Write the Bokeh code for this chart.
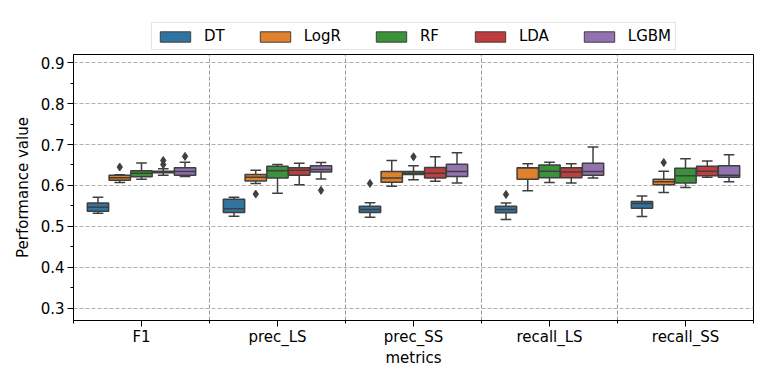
from bokeh.plotting import figure
from bokeh.layouts import column
from bokeh.models import Range1d, FixedTicker, Legend, LegendItem, ColumnDataSource
from bokeh.embed import file_html
from bokeh.resources import INLINE

metrics = ["F1", "prec_LS", "prec_SS", "recall_LS", "recall_SS"]
models = ["DT", "LogR", "RF", "LDA", "LGBM"]
colors = ["#3274a1", "#e1812c", "#3a923a", "#c03d3e", "#9372b2"]

# rows follow `models`, columns follow `metrics`
whisker_lo = [
    [0.532, 0.525, 0.522, 0.517, 0.524],
    [0.607, 0.605, 0.598, 0.587, 0.583],
    [0.615, 0.581, 0.614, 0.607, 0.595],
    [0.625, 0.602, 0.610, 0.606, 0.620],
    [0.622, 0.616, 0.606, 0.618, 0.609],
]
q1 = [
    [0.537, 0.534, 0.534, 0.533, 0.544],
    [0.613, 0.611, 0.608, 0.615, 0.602],
    [0.621, 0.618, 0.627, 0.619, 0.606],
    [0.631, 0.625, 0.618, 0.619, 0.624],
    [0.625, 0.633, 0.622, 0.625, 0.620],
]
median = [
    [0.547, 0.543, 0.541, 0.541, 0.556],
    [0.619, 0.620, 0.618, 0.643, 0.609],
    [0.630, 0.636, 0.630, 0.635, 0.624],
    [0.633, 0.637, 0.630, 0.633, 0.635],
    [0.634, 0.639, 0.634, 0.634, 0.625],
]
q3 = [
    [0.557, 0.566, 0.549, 0.549, 0.561],
    [0.625, 0.627, 0.634, 0.643, 0.615],
    [0.636, 0.647, 0.634, 0.650, 0.642],
    [0.635, 0.643, 0.644, 0.643, 0.647],
    [0.643, 0.648, 0.652, 0.654, 0.648],
]
whisker_hi = [
    [0.571, 0.571, 0.558, 0.557, 0.574],
    [0.626, 0.637, 0.661, 0.653, 0.635],
    [0.655, 0.651, 0.648, 0.657, 0.665],
    [0.641, 0.654, 0.670, 0.653, 0.660],
    [0.657, 0.656, 0.680, 0.694, 0.675],
]
outlier_metric = ["F1", "F1", "F1", "F1", "prec_LS", "prec_LS", "prec_SS", "prec_SS", "recall_LS", "recall_SS"]
outlier_model = ["LogR", "LDA", "LDA", "LGBM", "LogR", "LGBM", "DT", "RF", "DT", "LogR"]
outlier_value = [0.645, 0.661, 0.651, 0.671, 0.579, 0.588, 0.605, 0.670, 0.578, 0.656]

y_ticks = [0.3, 0.4, 0.5, 0.6, 0.7, 0.8, 0.9]
y_minor = [0.35, 0.45, 0.55, 0.65, 0.75, 0.85]

FONT = "DejaVu Sans"
EDGE = "#3f3f3f"
hue_w = 0.8 / len(models)
box_w = hue_w * 0.98
W = 764
LEG_H = 52

# ---------------- legend strip (separate figure above the chart)
lf = figure(width=W, height=LEG_H, output_backend="svg", toolbar_location=None,
            x_range=Range1d(0, 1), y_range=Range1d(0, 1),
            x_axis_location=None, y_axis_location=None,
            min_border_left=0, min_border_right=0, min_border_top=0, min_border_bottom=0)
lf.grid.visible = False
lf.outline_line_color = None
lf.background_fill_color = "white"
lf.border_fill_color = "white"
legend_items = []
for m, name in enumerate(models):
    # legend key only: the quad itself lies outside the strip's visible range
    r = lf.quad(left=[2], right=[3], bottom=[2], top=[3], fill_color=colors[m],
                line_color=EDGE, line_width=1)
    legend_items.append(LegendItem(label=name, renderers=[r]))
legend = Legend(items=legend_items, orientation="horizontal", location=(78, 2),
                glyph_width=38, glyph_height=13, label_standoff=10, spacing=31,
                padding=4, margin=0, label_height=16,
                label_text_font=FONT, label_text_font_size="15px", label_text_color="black",
                border_line_color="#cccccc", border_line_width=1,
                background_fill_color="white", background_fill_alpha=0.8)
lf.add_layout(legend, "center")

# ---------------- main chart
p = figure(width=W, height=378 - LEG_H, output_backend="svg", toolbar_location=None,
           x_range=Range1d(0, len(metrics)), y_range=Range1d(0.27, 0.92),
           min_border_left=73, min_border_right=11, min_border_top=54 - LEG_H, min_border_bottom=58)
p.background_fill_color = "white"
p.border_fill_color = "white"
p.outline_line_color = "black"
p.outline_line_width = 1

centers = [i + 0.5 for i in range(len(metrics))]
for m, name in enumerate(models):
    xs = [c + (m - (len(models) - 1) / 2) * hue_w for c in centers]
    src = ColumnDataSource(dict(
        x=xs,
        left=[x - box_w / 2 for x in xs], right=[x + box_w / 2 for x in xs],
        capl=[x - box_w / 4 for x in xs], capr=[x + box_w / 4 for x in xs],
        lo=whisker_lo[m], q1=q1[m], med=median[m], q3=q3[m], hi=whisker_hi[m],
    ))
    p.segment(x0="x", x1="x", y0="lo", y1="q1", source=src, line_color=EDGE, line_width=1.5)
    p.segment(x0="x", x1="x", y0="q3", y1="hi", source=src, line_color=EDGE, line_width=1.5)
    p.segment(x0="capl", x1="capr", y0="lo", y1="lo", source=src, line_color=EDGE, line_width=1.5)
    p.segment(x0="capl", x1="capr", y0="hi", y1="hi", source=src, line_color=EDGE, line_width=1.5)
    p.quad(left="left", right="right", bottom="q1", top="q3", source=src,
           fill_color=colors[m], line_color=EDGE, line_width=1.5)
    p.segment(x0="left", x1="right", y0="med", y1="med", source=src, line_color=EDGE, line_width=1.5)

ox = [metrics.index(a) + 0.5 + (models.index(b) - (len(models) - 1) / 2) * hue_w
      for a, b in zip(outlier_metric, outlier_model)]
p.scatter(x=ox, y=outlier_value, marker="diamond", size=8, fill_color=EDGE, line_color=EDGE)

# axes
p.xaxis.ticker = FixedTicker(ticks=centers, minor_ticks=list(range(len(metrics) + 1)))
p.xaxis.major_label_overrides = {c: lab for c, lab in zip(centers, metrics)}
p.yaxis.ticker = FixedTicker(ticks=y_ticks, minor_ticks=y_minor)
p.yaxis.formatter.use_scientific = False
p.xaxis.axis_label = "metrics"
p.yaxis.axis_label = "Performance value"
for ax in (p.xaxis[0], p.yaxis[0]):
    ax.axis_line_color = "black"
    ax.axis_line_width = 1
    ax.major_tick_line_color = "black"
    ax.minor_tick_line_color = "black"
    ax.major_tick_out = 6
    ax.major_tick_in = 0
    ax.minor_tick_out = 3
    ax.minor_tick_in = 0
    ax.major_label_text_font = FONT
    ax.major_label_text_font_size = "15px"
    ax.major_label_text_color = "black"
    ax.axis_label_text_font = FONT
    ax.axis_label_text_font_size = "15px"
    ax.axis_label_text_font_style = "normal"
    ax.axis_label_text_color = "black"
p.xaxis.major_label_standoff = 1
p.xaxis.axis_label_standoff = 0
p.yaxis.major_label_standoff = 3
p.yaxis.axis_label_standoff = 6

p.xgrid.grid_line_color = None
p.xgrid.minor_grid_line_color = "#999999"
p.xgrid.minor_grid_line_dash = "4 2"
p.xgrid.minor_grid_line_width = 1
p.ygrid.grid_line_color = "#b0b0b0"
p.ygrid.grid_line_dash = "4 2"
p.ygrid.grid_line_width = 1

layout = column(lf, p, spacing=0)
open("out.html", "w").write(file_html(layout, INLINE))
